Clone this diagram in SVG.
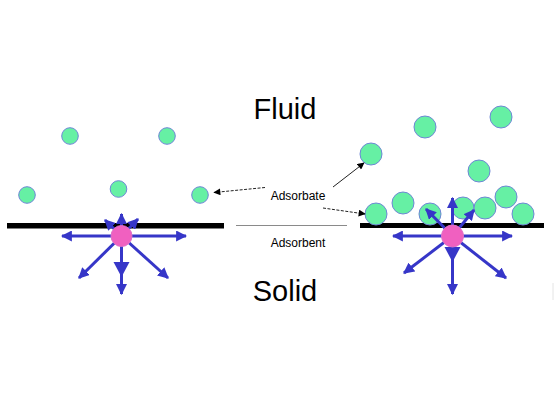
<svg xmlns="http://www.w3.org/2000/svg" width="554" height="416" viewBox="0 0 554 416">
<defs>
<style>
.p{fill:#66f0a4;stroke:#6f86d6;stroke-width:1}
.pk{fill:#f060c0;stroke:#e070c8;stroke-width:1}
.bar{fill:#000}
.ar{stroke:#3636c8;stroke-width:3;fill:none;marker-end:url(#bh)}
.lbl{font-family:"Liberation Sans",Arial,sans-serif;fill:#000}
.big{font-size:29px;text-anchor:middle}
.sm{font-size:12px;text-anchor:middle}
.ptr{stroke:#222;stroke-width:1;fill:none;marker-end:url(#kh)}
</style>
<marker id="bh" viewBox="0 0 10 10" refX="9" refY="5" markerWidth="11" markerHeight="11" markerUnits="userSpaceOnUse" orient="auto"><path d="M0,0 L10,5 L0,10 z" fill="#3636c8"/></marker>
<marker id="kh" viewBox="0 0 10 10" refX="9" refY="5" markerWidth="8" markerHeight="7" markerUnits="userSpaceOnUse" orient="auto"><path d="M0,0 L10,5 L0,10 z" fill="#000"/></marker>
</defs>
<rect width="554" height="416" fill="#fff"/>
<g id="labels">
<text class="lbl big" x="285" y="119">Fluid</text>
<text class="lbl big" x="285" y="301">Solid</text>
<text class="lbl sm" x="298" y="200">Adsorbate</text>
<text class="lbl sm" x="298" y="247">Adsorbent</text>
</g>
<g id="left-panel">
<rect class="bar" x="7" y="223" width="217" height="5.5"/>
<circle class="p" cx="70" cy="136" r="8.3"/>
<circle class="p" cx="167" cy="136" r="8.3"/>
<circle class="p" cx="27" cy="195" r="8.3"/>
<circle class="p" cx="118.5" cy="189" r="8.3"/>
<circle class="p" cx="200" cy="195" r="8.3"/>
</g>
<g id="right-panel">
<rect class="bar" x="360" y="223" width="184" height="5"/>
<circle class="p" cx="425" cy="127" r="11"/>
<circle class="p" cx="501" cy="117" r="11"/>
<circle class="p" cx="371" cy="154" r="11"/>
<circle class="p" cx="479" cy="171" r="11"/>
<circle class="p" cx="403" cy="203" r="11"/>
<circle class="p" cx="376" cy="214" r="11"/>
<circle class="p" cx="430" cy="214" r="11"/>
<circle class="p" cx="463" cy="208" r="11"/>
<circle class="p" cx="485" cy="208" r="11"/>
<circle class="p" cx="506" cy="197" r="11"/>
<circle class="p" cx="523" cy="214" r="11"/>
</g>
<g id="adsorbent-line">
<line x1="236" y1="225.5" x2="347" y2="225.5" stroke="#8a8a8a" stroke-width="1.2"/>
<line x1="553" y1="283" x2="553" y2="300" stroke="#e4e4e4" stroke-width="1"/>
</g>
<g id="connectors">
<line class="ptr" x1="265" y1="187.5" x2="214" y2="192.5" stroke-dasharray="3,1.5"/>
<line class="ptr" x1="333" y1="187" x2="364" y2="163"/>
<line class="ptr" x1="323" y1="208" x2="365" y2="214" stroke-dasharray="3,1.5"/>
<g id="left-arrows">
<line class="ar" x1="121.5" y1="236" x2="62" y2="236"/>
<line class="ar" x1="121.5" y1="236" x2="186" y2="236"/>
<line class="ar" x1="121.5" y1="236" x2="121.5" y2="214"/>
<line class="ar" x1="121.5" y1="236" x2="105" y2="220"/>
<line class="ar" x1="121.5" y1="236" x2="138" y2="219"/>
<line class="ar" x1="121.5" y1="236" x2="79" y2="278"/>
<line class="ar" x1="121.5" y1="236" x2="168" y2="278"/>
<line class="ar" x1="121.5" y1="236" x2="121.5" y2="294"/>
<path d="M113.5,262 L129.5,262 L121.5,277 z" fill="#3636c8"/>
</g>
<g id="right-arrows">
<line class="ar" x1="452.5" y1="236" x2="393" y2="236"/>
<line class="ar" x1="452.5" y1="236" x2="512" y2="236"/>
<line class="ar" x1="452.5" y1="236" x2="452.5" y2="198"/>
<line class="ar" x1="452.5" y1="236" x2="426" y2="209"/>
<line class="ar" x1="452.5" y1="236" x2="474" y2="210"/>
<line class="ar" x1="452.5" y1="236" x2="404" y2="273"/>
<line class="ar" x1="452.5" y1="236" x2="506" y2="278"/>
<line class="ar" x1="452.5" y1="236" x2="452.5" y2="294"/>
<path d="M444.5,247 L460.5,247 L452.5,262 z" fill="#3636c8"/>
</g>
</g>
<g id="left-site"><circle class="pk" cx="121.5" cy="236" r="10.5"/></g>
<g id="right-site"><circle class="pk" cx="452.5" cy="236" r="11"/></g>
</svg>
